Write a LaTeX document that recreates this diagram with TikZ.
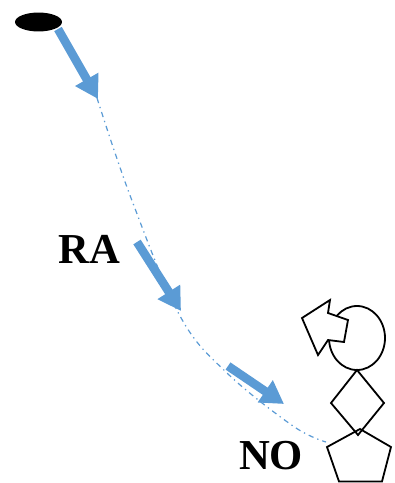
\documentclass[tikz,border=0pt]{standalone}
\usepackage{fontspec}
\setmainfont{Liberation Serif}
\usetikzlibrary{arrows.meta}
\definecolor{flowblue}{RGB}{91,155,213}
\begin{document}
\begin{tikzpicture}[x=0.75pt,y=-0.75pt,
  every node/.style={font=\fontsize{32}{36}\selectfont\bfseries, inner sep=0pt},
  blarrow/.style={flowblue, line width=6.5pt, -{Triangle[width=19pt,length=17pt]}},
  trail/.style={flowblue, line width=0.9pt, dash pattern=on 4pt off 3pt on 1pt off 3pt},
  outline/.style={black, line width=1.35pt, line join=miter}]
\useasboundingbox (0,0) rectangle (394,483);
% ball and its path
\fill (38.5,22) ellipse [x radius=17.6pt, y radius=7.1pt];
\draw[trail] plot[smooth, tension=0.6] coordinates {(97,98) (131,198) (180,316) (227,373) (293,426) (326,442)};
\coordinate (a1s) at (58,29);  \coordinate (a1e) at (98,99);
\coordinate (a2s) at (137,242); \coordinate (a2e) at (181,311);
\coordinate (a3s) at (228,366); \coordinate (a3e) at (284,404);
\draw[blarrow] (a1s) -- (a1e);
\draw[blarrow] (a2s) -- (a2e);
\draw[blarrow] (a3s) -- (a3e);
\node (ra) at (89.5,249.5) {RA};
\node (no) at (271,455.5) {NO};
% figure on the right
\draw[outline] (357,338) ellipse [x radius=21pt, y radius=24pt];
\draw[outline, fill=white] (302,318) -- (330,300) -- (328,313) -- (348,320) -- (344,342) -- (328,340) -- (318,355) -- cycle;
\draw[outline] (357,370) -- (384,403) -- (358,435) -- (331,403) -- cycle;
\draw[outline] (360,429) -- (391,447) -- (382,481.5) -- (339,481.5) -- (327,447) -- cycle;
\end{tikzpicture}
\end{document}
